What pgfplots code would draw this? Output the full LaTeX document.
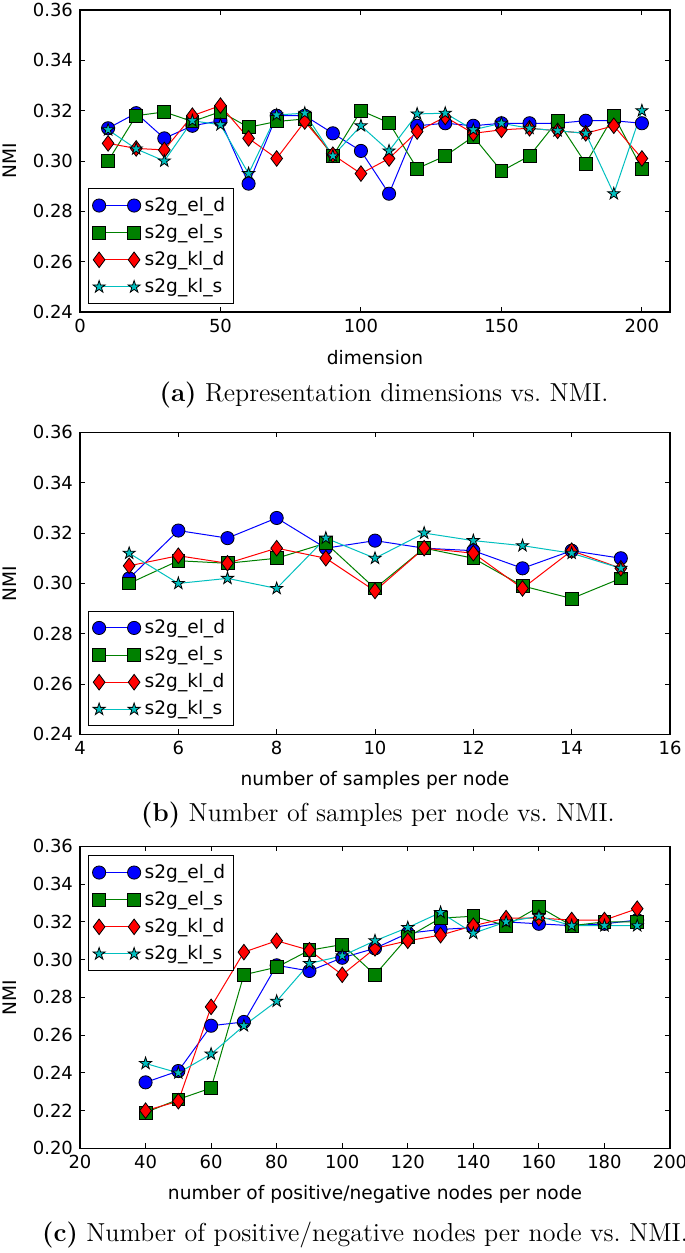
\documentclass[border=0pt]{standalone}
\usepackage{pgfplots}
\pgfplotsset{compat=1.18}
\usepackage{fontspec}
\newfontfamily\dejavu{DejaVu Sans}
\usetikzlibrary{plotmarks}
\definecolor{mblue}{rgb}{0,0,1}
\definecolor{mgreen}{rgb}{0,0.5,0}
\definecolor{mred}{rgb}{1,0,0}
\definecolor{mcyan}{rgb}{0,0.75,0.75}
\pgfdeclareplotmark{fstar}{%
  \pgfpathmoveto{\pgfpointpolar{90}{\pgfplotmarksize}}%
  \pgfpathlineto{\pgfpointpolar{126}{0.382\pgfplotmarksize}}%
  \pgfpathlineto{\pgfpointpolar{162}{\pgfplotmarksize}}%
  \pgfpathlineto{\pgfpointpolar{198}{0.382\pgfplotmarksize}}%
  \pgfpathlineto{\pgfpointpolar{234}{\pgfplotmarksize}}%
  \pgfpathlineto{\pgfpointpolar{270}{0.382\pgfplotmarksize}}%
  \pgfpathlineto{\pgfpointpolar{306}{\pgfplotmarksize}}%
  \pgfpathlineto{\pgfpointpolar{342}{0.382\pgfplotmarksize}}%
  \pgfpathlineto{\pgfpointpolar{18}{\pgfplotmarksize}}%
  \pgfpathlineto{\pgfpointpolar{54}{0.382\pgfplotmarksize}}%
  \pgfpathclose
  \pgfusepathqfillstroke
}
\newcommand{\tickfont}{\dejavu\fontsize{9}{10.5}\selectfont}
\newcommand{\labfont}{\dejavu\fontsize{9.3}{11}\selectfont}
\newcommand{\capfont}{\fontsize{13}{15.5}\selectfont}
\pgfplotsset{
  nmistyle/.style={
    scale only axis, width=295pt, height=151pt,
    tick align=inside, major tick length=2.5pt,
    every tick/.style={black, line width=0.5pt},
    axis line style={line width=0.6pt},
    ticklabel style={font=\tickfont},
    /pgf/number format/assume math mode=true,
    label style={font=\labfont},
    yticklabel style={/pgf/number format/fixed, /pgf/number format/fixed zerofill, /pgf/number format/precision=2},
    ylabel={NMI},
    y label style={at={(axis description cs:-0.1186,0.5)}, anchor=center},
    x label style={at={(axis description cs:0.5,-0.152)}, anchor=center},
    legend cell align=left,
    legend style={font=\labfont, draw=black, line width=0.5pt, inner sep=2pt, row sep=1pt},
    legend image code/.code={\draw[mark repeat=2,mark phase=1,##1] plot coordinates {(0pt,0pt) (8.75pt,0pt) (17.5pt,0pt)};},
  },
  sblue/.style={mblue, line width=0.5pt, mark=*, mark size=3.3pt, mark options={fill=mblue, draw=black, line width=0.4pt}},
  sgreen/.style={mgreen, line width=0.5pt, mark=square*, mark size=3.2pt, mark options={fill=mgreen, draw=black, line width=0.4pt}},
  sred/.style={mred, line width=0.5pt, mark=diamond*, mark size=3.9pt, mark options={fill=mred, draw=black, line width=0.4pt}},
  scyan/.style={mcyan, line width=0.5pt, mark=fstar, mark size=3.2pt, mark options={fill=mcyan, draw=black, line width=0.4pt}},
}
\begin{document}
\begin{tikzpicture}
\useasboundingbox (0pt,0pt) rectangle (342.5pt,-626.5pt);
% ---------------- (a)
\begin{axis}[nmistyle, at={(40pt,-156pt)}, anchor=south west,
  xmin=0, xmax=210, ymin=0.24, ymax=0.36,
  xtick={0,50,100,150,200}, ytick={0.24,0.26,0.28,0.30,0.32,0.34,0.36},
  xlabel={dimension},
  legend style={at={(axis description cs:0.0136,0.0265)}, anchor=south west}]
\addplot[sblue] coordinates {(10,0.313) (20,0.319) (30,0.309) (40,0.314) (50,0.316) (60,0.291) (70,0.318) (80,0.318) (90,0.311) (100,0.304) (110,0.287) (120,0.314) (130,0.315) (140,0.314) (150,0.315) (160,0.315) (170,0.315) (180,0.316) (190,0.316) (200,0.315)};
\addplot[sgreen] coordinates {(10,0.300) (20,0.318) (30,0.3195) (40,0.3157) (50,0.3196) (60,0.3134) (70,0.3157) (80,0.3167) (90,0.302) (100,0.320) (110,0.3152) (120,0.297) (130,0.302) (140,0.3097) (150,0.296) (160,0.302) (170,0.316) (180,0.299) (190,0.318) (200,0.297)};
\addplot[sred] coordinates {(10,0.307) (20,0.305) (30,0.3044) (40,0.318) (50,0.322) (60,0.309) (70,0.301) (80,0.3157) (90,0.3025) (100,0.295) (110,0.301) (120,0.3117) (130,0.3175) (140,0.311) (150,0.3124) (160,0.313) (170,0.312) (180,0.311) (190,0.314) (200,0.301)};
\addplot[scyan] coordinates {(10,0.3124) (20,0.3048) (30,0.300) (40,0.316) (50,0.3144) (60,0.295) (70,0.3183) (80,0.319) (90,0.302) (100,0.314) (110,0.304) (120,0.3187) (130,0.319) (140,0.3124) (150,0.315) (160,0.313) (170,0.312) (180,0.311) (190,0.287) (200,0.320)};
\legend{s2g\_el\_d, s2g\_el\_s, s2g\_kl\_d, s2g\_kl\_s}
\end{axis}
\node[anchor=center, font=\capfont] at (192pt,-197.5pt) {\textbf{(a)} Representation dimensions vs.\ NMI.};
% ---------------- (b)
\begin{axis}[nmistyle, at={(40pt,-367.2pt)}, anchor=south west,
  xmin=4, xmax=16, ymin=0.24, ymax=0.36,
  xtick={4,6,8,10,12,14,16}, ytick={0.24,0.26,0.28,0.30,0.32,0.34,0.36},
  xlabel={number of samples per node},
  legend style={at={(axis description cs:0.0136,0.0265)}, anchor=south west}]
\addplot[sblue] coordinates {(5,0.302) (6,0.321) (7,0.318) (8,0.326) (9,0.314) (10,0.317) (11,0.314) (12,0.313) (13,0.306) (14,0.313) (15,0.310)};
\addplot[sgreen] coordinates {(5,0.300) (6,0.309) (7,0.308) (8,0.310) (9,0.316) (10,0.298) (11,0.314) (12,0.310) (13,0.299) (14,0.294) (15,0.302)};
\addplot[sred] coordinates {(5,0.307) (6,0.311) (7,0.308) (8,0.314) (9,0.310) (10,0.297) (11,0.314) (12,0.312) (13,0.298) (14,0.313) (15,0.306)};
\addplot[scyan] coordinates {(5,0.312) (6,0.300) (7,0.302) (8,0.298) (9,0.318) (10,0.310) (11,0.320) (12,0.317) (13,0.315) (14,0.312) (15,0.306)};
\legend{s2g\_el\_d, s2g\_el\_s, s2g\_kl\_d, s2g\_kl\_s}
\end{axis}
\node[anchor=center, font=\capfont] at (189pt,-407.5pt) {\textbf{(b)} Number of samples per node vs.\ NMI.};
% ---------------- (c)
\begin{axis}[nmistyle, at={(40pt,-574.2pt)}, anchor=south west,
  xmin=20, xmax=200, ymin=0.20, ymax=0.36,
  xtick={20,40,60,80,100,120,140,160,180,200}, ytick={0.20,0.22,0.24,0.26,0.28,0.30,0.32,0.34,0.36},
  xlabel={number of positive/negative nodes per node},
  legend style={at={(axis description cs:0.0136,0.97)}, anchor=north west}]
\addplot[sblue] coordinates {(40,0.235) (50,0.241) (60,0.265) (70,0.267) (80,0.297) (90,0.294) (100,0.301) (110,0.306) (120,0.314) (130,0.316) (140,0.317) (150,0.320) (160,0.319) (170,0.318) (180,0.319) (190,0.321)};
\addplot[sgreen] coordinates {(40,0.219) (50,0.226) (60,0.232) (70,0.292) (80,0.296) (90,0.305) (100,0.308) (110,0.292) (120,0.312) (130,0.322) (140,0.323) (150,0.318) (160,0.328) (170,0.318) (180,0.320) (190,0.320)};
\addplot[sred] coordinates {(40,0.220) (50,0.225) (60,0.275) (70,0.304) (80,0.310) (90,0.305) (100,0.292) (110,0.306) (120,0.310) (130,0.313) (140,0.318) (150,0.322) (160,0.322) (170,0.321) (180,0.321) (190,0.327)};
\addplot[scyan] coordinates {(40,0.245) (50,0.240) (60,0.250) (70,0.265) (80,0.278) (90,0.298) (100,0.302) (110,0.310) (120,0.317) (130,0.325) (140,0.314) (150,0.320) (160,0.323) (170,0.318) (180,0.318) (190,0.318)};
\legend{s2g\_el\_d, s2g\_el\_s, s2g\_kl\_d, s2g\_kl\_s}
\end{axis}
\node[anchor=center, font=\capfont] at (182.5pt,-617.5pt) {\textbf{(c)} Number of positive/negative nodes per node vs.\ NMI.};
\end{tikzpicture}
\end{document}
